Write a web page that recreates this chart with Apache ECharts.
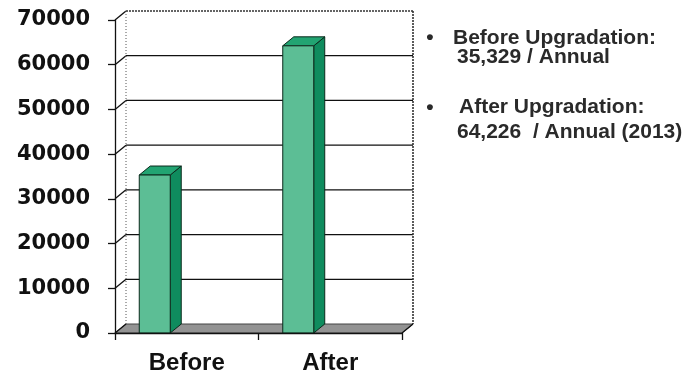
<!DOCTYPE html>
<html>
<head>
<meta charset="utf-8">
<script src="https://cdn.jsdelivr.net/npm/echarts@6/dist/echarts.min.js"></script>
<style>
  html, body { margin: 0; padding: 0; background: #ffffff; }
  #chart { width: 698px; height: 381px; }
</style>
</head>
<body>
<div id="chart"></div>
<script>
// Annual figures before and after the upgrade
const categories = ['Before', 'After'];
const annualValues = [35329, 64226];
const yTicks = [0, 10000, 20000, 30000, 40000, 50000, 60000, 70000];
const noteTitles = ['Before Upgradation:', 'After Upgradation:'];
const noteDetails = ['35,329 / Annual', '64,226  / Annual (2013)'];

// Pseudo-3D depth of the plot box (pixels toward the back wall)
const DEPTH_X = 11;
const DEPTH_Y = -9;

const chart = echarts.init(document.getElementById('chart'), null, { renderer: 'canvas' });

const lineCol = '#111111';

// Back wall, side wall connectors and floor
function renderFrame(params, api) {
  const cs = params.coordSys;
  const x0 = cs.x, x1 = cs.x + cs.width;
  const children = [];
  const yTop = api.coord([0, yTicks[yTicks.length - 1]])[1];
  const yBottom = api.coord([0, yTicks[0]])[1];

  // floor
  children.push({
    type: 'polygon',
    shape: { points: [[x0, yBottom], [x1, yBottom], [x1 + DEPTH_X, yBottom + DEPTH_Y], [x0 + DEPTH_X, yBottom + DEPTH_Y]] },
    style: { fill: '#939393', stroke: '#444444', lineWidth: 1 }
  });

  yTicks.forEach(function (v, idx) {
    const y = api.coord([0, v])[1];
    const last = idx === yTicks.length - 1;
    if (idx > 0) {
      children.push({
        type: 'line',
        shape: { x1: x0 + DEPTH_X, y1: y + DEPTH_Y, x2: x1 + DEPTH_X, y2: y + DEPTH_Y },
        style: { stroke: last ? '#333333' : lineCol, lineWidth: last ? 1.5 : 1.3, lineDash: last ? [2, 1] : null }
      });
    }
    children.push({
      type: 'line',
      shape: { x1: x0, y1: y, x2: x0 + DEPTH_X, y2: y + DEPTH_Y },
      style: { stroke: lineCol, lineWidth: 1.3 }
    });
  });

  // back wall vertical edges
  children.push({
    type: 'line',
    shape: { x1: x0 + DEPTH_X, y1: yTop + DEPTH_Y, x2: x0 + DEPTH_X, y2: yBottom + DEPTH_Y },
    style: { stroke: '#555555', lineWidth: 1, lineDash: [1, 2] }
  });
  children.push({
    type: 'line',
    shape: { x1: x1 + DEPTH_X, y1: yTop + DEPTH_Y, x2: x1 + DEPTH_X, y2: yBottom + DEPTH_Y },
    style: { stroke: '#333333', lineWidth: 1.6, lineDash: [2, 1] }
  });
  // floor right edge
  children.push({
    type: 'line',
    shape: { x1: x1, y1: yBottom, x2: x1 + DEPTH_X, y2: yBottom + DEPTH_Y },
    style: { stroke: lineCol, lineWidth: 1.3 }
  });
  return { type: 'group', children: children };
}

// 3D bar: front face, right side face, top face
function renderBar(params, api) {
  const idx = api.value(0);
  const val = api.value(1);
  const base = api.coord([idx, 0]);
  const top = api.coord([idx, val]);
  const band = api.size([1, 0])[0];
  const w = band * 0.216;
  const left = base[0] - band * 0.223 - w / 2;
  const right = left + w;
  const stroke = '#0b2a1c';
  return {
    type: 'group',
    children: [
      {
        type: 'polygon',
        shape: { points: [[right, top[1]], [right + DEPTH_X, top[1] + DEPTH_Y], [right + DEPTH_X, base[1] + DEPTH_Y], [right, base[1]]] },
        style: { fill: '#0f8c5e', stroke: stroke, lineWidth: 1 }
      },
      {
        type: 'polygon',
        shape: { points: [[left, top[1]], [left + DEPTH_X, top[1] + DEPTH_Y], [right + DEPTH_X, top[1] + DEPTH_Y], [right, top[1]]] },
        style: { fill: '#22a472', stroke: stroke, lineWidth: 1 }
      },
      {
        type: 'rect',
        shape: { x: left, y: top[1], width: w, height: base[1] - top[1] },
        style: { fill: '#5cbe95', stroke: stroke, lineWidth: 1 }
      }
    ]
  };
}

const noteFont = 'bold 21px "Liberation Sans", Arial, sans-serif';
const noteColor = '#2a2a2a';
const noteRows = [
  { bulletY: 38, titleY: 38.5, detailY: 57.5, titleX: 453, detailX: 457 },
  { bulletY: 108, titleY: 107.5, detailY: 132.5, titleX: 459, detailX: 457 }
];
const noteGraphics = [];
noteRows.forEach(function (r, i) {
  noteGraphics.push({ type: 'text', x: 430, y: r.bulletY, style: { text: '\u2022', font: noteFont, fill: noteColor, align: 'center', verticalAlign: 'middle' } });
  noteGraphics.push({ type: 'text', x: r.titleX, y: r.titleY, style: { text: noteTitles[i], font: noteFont, fill: noteColor, verticalAlign: 'middle' } });
  noteGraphics.push({ type: 'text', x: r.detailX, y: r.detailY, style: { text: noteDetails[i], font: noteFont, fill: noteColor, verticalAlign: 'middle' } });
});

chart.setOption({
  animation: false,
  backgroundColor: '#ffffff',
  grid: { left: 115, top: 20, width: 287, height: 313, containLabel: false },
  xAxis: {
    type: 'category',
    data: categories,
    boundaryGap: true,
    axisLine: { show: true, lineStyle: { color: lineCol, width: 1.3 } },
    axisTick: { show: true, length: 7, lineStyle: { color: lineCol, width: 1.3 } },
    axisLabel: { margin: 18, color: '#111111', fontFamily: '"Liberation Sans", Arial, sans-serif', fontWeight: 'bold', fontSize: 24 },
    splitLine: { show: false },
    z: 10
  },
  yAxis: {
    type: 'value',
    min: 0,
    max: 70000,
    interval: 10000,
    axisLine: { show: true, lineStyle: { color: lineCol, width: 1.3 } },
    axisTick: { show: true, length: 7, lineStyle: { color: lineCol, width: 1.3 } },
    axisLabel: {
      margin: 25,
      color: '#111111',
      fontFamily: '"DejaVu Sans", sans-serif',
      fontWeight: 'bold',
      fontSize: 21,
      formatter: function (v) { return String(v); }
    },
    splitLine: { show: false },
    z: 10
  },
  graphic: noteGraphics,
  series: [
    {
      type: 'custom',
      name: 'frame',
      renderItem: renderFrame,
      data: [[0, 0]],
      z: 1,
      silent: true
    },
    {
      type: 'custom',
      name: 'Annual',
      renderItem: renderBar,
      data: annualValues.map(function (v, i) { return [i, v]; }),
      encode: { x: 0, y: 1 },
      z: 5
    }
  ]
});
</script>
</body>
</html>
